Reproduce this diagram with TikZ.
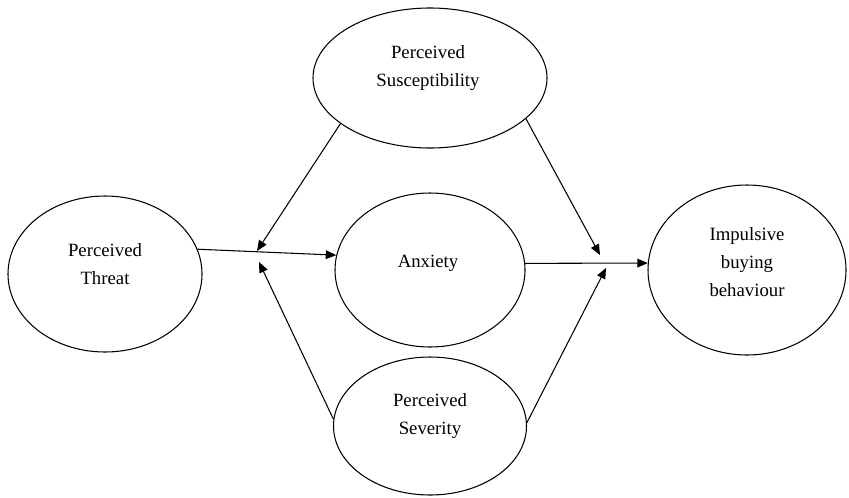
\documentclass[tikz,border=0pt]{standalone}
\usepackage{fontspec}
\setmainfont{Liberation Serif}
\usetikzlibrary{shapes.geometric,arrows.meta}
\tikzset{
  oval/.style={draw,ellipse,line width=0.9pt,inner sep=0pt},
  lbl/.style={align=center,font=\fontsize{16}{24}\selectfont},
  link/.style={line width=0.9pt,-{Triangle[length=9pt,width=7.5pt]}}
}
\begin{document}
\begin{tikzpicture}[x=0.03cm,y=-0.03cm]
\useasboundingbox (0,0) rectangle (849,497);
% ellipses
\node[oval,minimum width=5.82cm,minimum height=4.68cm] (threat) at (105,274) {};
\node[oval,minimum width=7.02cm,minimum height=4.2cm] (sus) at (430,78) {};
\node[oval,minimum width=5.7cm,minimum height=4.62cm] (anx) at (430,270) {};
\node[oval,minimum width=5.79cm,minimum height=4.14cm] (sev) at (430,426) {};
\node[oval,minimum width=5.94cm,minimum height=5.1cm] (imp) at (747,270) {};
% texts
\node[lbl] (threattxt) at (105,264) {Perceived\\Threat};
\node[lbl] (sustxt) at (428,68) {Perceived\\Susceptibility};
\node[lbl] (anxtxt) at (428,263) {Anxiety};
\node[lbl] (sevtxt) at (430,416) {Perceived\\Severity};
\node[lbl] (imptxt) at (747,262) {Impulsive\\buying\\behaviour};
% meeting points
\coordinate (m1a) at (257,251);
\coordinate (m1b) at (259,262);
\coordinate (m2a) at (600,255);
\coordinate (m2b) at (606,268);
% arrows
\draw[link] (threat.15) -- (anx.171);
\draw[link] (anx.4) -- (imp.176);
\draw[link] (sus.207) -- (m1a);
\draw[link] (sev.176) -- (m1b);
\draw[link] (sus.337) -- (m2a);
\draw[link] (sev.2) -- (m2b);
\end{tikzpicture}
\end{document}
